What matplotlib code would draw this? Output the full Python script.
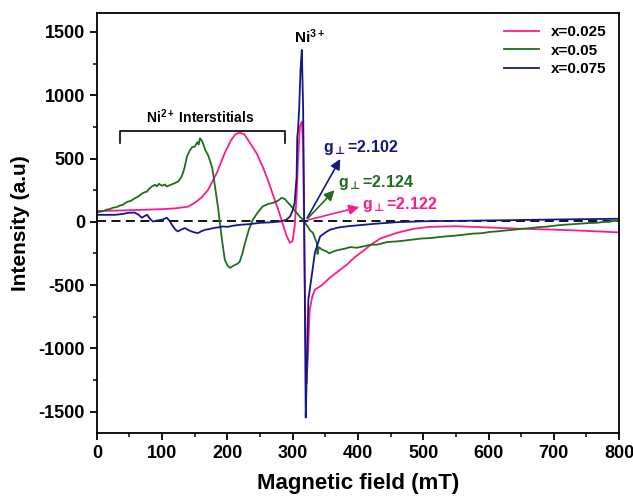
import numpy as np
import matplotlib
matplotlib.use("Agg")
import matplotlib.pyplot as plt
from matplotlib.ticker import MultipleLocator

# ---- data ----
pink_x = [0, 20, 40, 60, 80, 100, 120, 140, 150, 160, 170, 176, 185, 196, 205, 212, 219, 226, 235, 245,
          254, 262, 270, 278, 285, 291, 296, 300, 303, 306, 308, 311, 314, 316, 318, 320, 321, 323, 326,
          330, 334, 345, 357, 370, 383, 395, 408, 420, 435, 460, 485, 510, 550, 600, 650, 700, 750, 800]
pink_y = [85, 87, 90, 93, 96, 100, 106, 120, 150, 190, 250, 308, 400, 545, 640, 690, 705, 690, 620, 540,
          437, 330, 210, 95, -20, -116, -167, -150, -37, 200, 465, 752, 792, 600, -300, -1000, -1280, -1100, -700,
          -590, -537, -500, -442, -390, -339, -280, -230, -180, -130, -87, -55, -40, -35, -45, -55, -62, -72, -84]

green_x = [0, 5, 10, 15, 20, 25, 30, 35, 40, 44, 48, 52, 55, 58, 62, 66, 70, 74, 77, 80, 85, 89, 92, 95,
           100, 104, 107, 112, 117, 120, 125, 130, 134, 138, 142, 146, 150, 154, 156, 158, 161, 164, 166,
           170, 173, 177, 181, 186, 191, 196, 200, 204, 208, 212, 216, 219, 223, 227, 233, 239, 246, 254,
           262, 270, 277, 283, 288, 293, 300, 306, 311, 316, 322, 327, 331, 334, 337, 338, 340, 345, 352,
           356, 360, 366, 372, 380, 388, 398, 408, 418, 430, 445, 460, 472, 485, 497, 510, 522, 535, 548,
           561, 575, 590, 602, 613, 627, 640, 652, 664, 677, 690, 702, 714, 727, 740, 753, 766, 775, 785,
           793, 800]
green_y = [73, 80, 85, 96, 100, 112, 115, 128, 135, 150, 160, 165, 175, 186, 195, 210, 225, 235, 239, 260,
           282, 292, 280, 300, 285, 295, 279, 290, 300, 307, 320, 358, 420, 515, 560, 590, 594, 630, 610,
           660, 640, 600, 568, 530, 489, 420, 279, 100, -116, -300, -345, -364, -350, -340, -330, -313,
           -250, -167, -60, 16, 70, 121, 140, 150, 165, 189, 180, 150, 110, 71, 40, 16, -30, -70, -87,
           -130, -166, -255, -200, -220, -234, -250, -240, -228, -221, -212, -200, -205, -195, -182, -180,
           -160, -155, -148, -140, -132, -129, -122, -115, -110, -103, -94, -90, -80, -76, -68, -62, -55,
           -50, -42, -38, -30, -24, -20, -15, -10, -8, -2, 0, 8, 5]

blue_x = [0, 15, 28, 40, 48, 58, 64, 69, 73, 77, 82, 86, 92, 100, 107, 111, 115, 120, 124, 130, 135, 140,
          145, 150, 155, 160, 166, 172, 178, 185, 193, 200, 210, 219, 230, 240, 250, 265, 280, 290, 296, 300,
          303, 306, 307, 308, 310, 312, 314, 316, 318, 320, 322, 324, 329, 334, 342, 350, 357, 370, 385, 408,
          430, 460, 500, 561, 620, 700, 800]
blue_y = [55, 55, 55, 62, 71, 73, 55, 32, 45, 55, 20, 2, 10, 16, 32, 10, -24, -60, -76, -60, -50, -65,
          -76, -85, -89, -75, -63, -58, -50, -45, -37, -40, -30, -24, -20, -15, -8, -5, 2, 15, 42, 90,
          150, 355, 670, 713, 900, 1200, 1358, 900, -200, -1547, -1100, -616, -432, -245, -116, -85, -63, -45,
          -35, -24, -14, -3, 4, 8, 12, 18, 24]

labels = ["x=0.025", "x=0.05", "x=0.075"]
colors = ["#ff1a8c", "#1d6e1d", "#16168c"]

g_labels = [r"g$_{\mathsf{\bot}}$=2.102", r"g$_{\mathsf{\bot}}$=2.124", r"g$_{\mathsf{\bot}}$=2.122"]
g_tips = [(375, 515), (367, 266), (406, 121)]
g_text = [(347, 584), (370, 308), (406, 134)]
g_colors = ["#16168c", "#1d6e1d", "#ff1a8c"]

plt.rcParams['font.family'] = ['Liberation Sans', 'DejaVu Sans']
plt.rcParams['font.weight'] = 'bold'
plt.rcParams['axes.unicode_minus'] = False
plt.rcParams['mathtext.fontset'] = 'custom'
plt.rcParams['mathtext.rm'] = 'Liberation Sans:bold'
plt.rcParams['mathtext.it'] = 'Liberation Sans:bold'
plt.rcParams['mathtext.bf'] = 'Liberation Sans:bold'
plt.rcParams['mathtext.sf'] = 'DejaVu Sans'

fig = plt.figure(figsize=(6.33, 4.99), dpi=100)
ax = fig.add_axes([0.153, 0.132, 0.825, 0.842])

ax.plot([0, 800], [5, 5], color='black', linestyle=(0, (5, 3)), linewidth=1.3)
ax.plot(pink_x, pink_y, color=colors[0], linewidth=1.3, label=labels[0])
ax.plot(green_x, green_y, color=colors[1], linewidth=1.3, label=labels[1])
ax.plot(blue_x, blue_y, color=colors[2], linewidth=1.3, label=labels[2])

# g-factor arrows
origin = (320, 10)
for lab, tip, tpos, c in zip(g_labels, g_tips, g_text, g_colors):
    ax.annotate('', xy=tip, xytext=origin,
                arrowprops=dict(arrowstyle='-|>', color=c, lw=1.2, mutation_scale=15))
    ax.text(tpos[0], tpos[1], lab, color=c, fontsize=11.5, fontweight='bold', va='center', ha='left')

# Ni2+ bracket
ax.plot([35, 35, 288, 288], [621, 721, 721, 621], color='black', linewidth=1.2)
ax.text(158, 831, r"Ni$^{2+}$ Interstitials", fontsize=10, fontweight='bold', ha='center', va='center')
ax.text(326, 1463, r"Ni$^{3+}$", fontsize=11, fontweight='bold', ha='center', va='center')

ax.set_xlim(0, 800)
ax.set_ylim(-1670, 1650)
ax.xaxis.set_major_locator(MultipleLocator(100))
ax.xaxis.set_minor_locator(MultipleLocator(50))
ax.yaxis.set_major_locator(MultipleLocator(500))
ax.yaxis.set_minor_locator(MultipleLocator(250))
ax.tick_params(which='major', direction='out', length=5, width=1.3, labelsize=13)
ax.tick_params(which='minor', direction='out', length=3, width=1.1)
for lbl in ax.get_xticklabels() + ax.get_yticklabels():
    lbl.set_fontweight('bold')
for s in ax.spines.values():
    s.set_linewidth(1.3)

ax.set_xlabel("Magnetic field (mT)", fontsize=16, fontweight='bold', labelpad=8)
ax.set_ylabel("Intensity (a.u)", fontsize=15, fontweight='bold', labelpad=6)

leg = ax.legend(loc='upper right', frameon=False, fontsize=11, handlelength=2.3,
                labelspacing=0.3, borderaxespad=0.4)
for t in leg.get_texts():
    t.set_fontweight('bold')

fig.savefig("out.png", dpi=100)
